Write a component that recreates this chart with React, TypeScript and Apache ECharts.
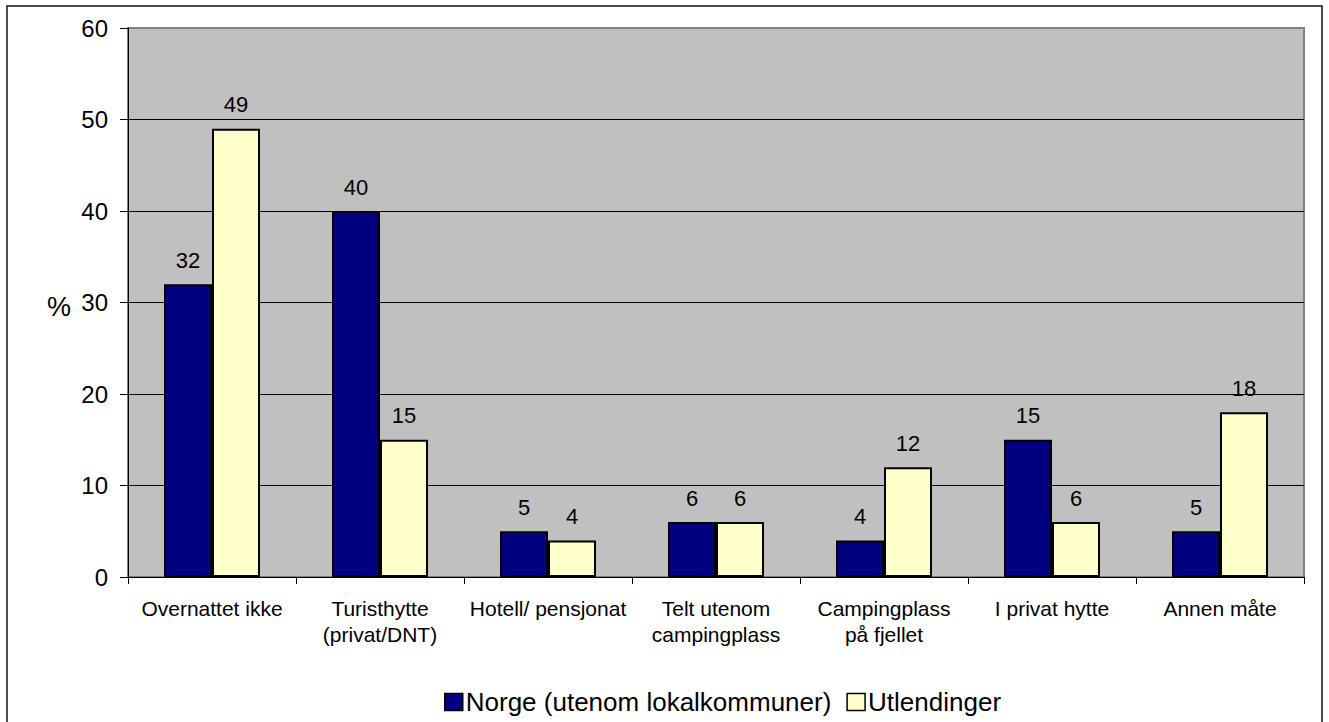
import React, { useEffect, useRef } from "react";
import * as echarts from "echarts";

const categories = [
  "Overnattet ikke",
  "Turisthytte\n(privat/DNT)",
  "Hotell/ pensjonat",
  "Telt utenom\ncampingplass",
  "Campingplass\npå fjellet",
  "I privat hytte",
  "Annen måte",
];
const norge = [32, 40, 5, 6, 4, 15, 5];
const utlendinger = [49, 15, 4, 6, 12, 6, 18];
const seriesNames = ["Norge (utenom lokalkommuner)", "Utlendinger"];

const FONT = "'Liberation Sans', Arial, sans-serif";

export default function App() {
  const ref = useRef<HTMLDivElement>(null);
  useEffect(() => {
    if (!ref.current) return;
    const chart = echarts.init(ref.current, null, { renderer: "svg" });
    const label = {
      show: true,
      position: "top",
      distance: 13,
      color: "#000",
      fontFamily: FONT,
      fontSize: 22,
    };
    chart.setOption({
      animation: false,
      backgroundColor: "#fff",
      textStyle: { fontFamily: FONT },
      grid: {
        left: 128,
        top: 28,
        right: 25,
        bottom: 145,
        show: true,
        backgroundColor: "#C0C0C0",
        borderColor: "#808080",
        borderWidth: 2,
      },
      graphic: [
        {
          type: "rect",
          shape: { x: 7, y: 6, width: 1315, height: 740 },
          style: { fill: "none", stroke: "#111", lineWidth: 1.5 },
          z: 100,
        },
        {
          type: "text",
          x: 47,
          y: 293,
          style: {
            text: "%",
            fontFamily: FONT,
            fontSize: 27,
            fill: "#000",
          },
        },
      ],
      legend: {
        left: 439,
        top: 684,
        itemWidth: 18,
        itemHeight: 17,
        itemGap: 15,
        icon: "rect",
        textStyle: { fontFamily: FONT, fontSize: 26, color: "#000", padding: [0, 0, 0, -2] },
        itemStyle: { borderColor: "#000", borderWidth: 1.5 },
        data: seriesNames,
      },
      xAxis: {
        type: "category",
        data: categories,
        axisLine: { show: true, lineStyle: { color: "#000", width: 1 } },
        axisTick: { show: true, length: 7, lineStyle: { color: "#000" } },
        axisLabel: {
          color: "#000",
          fontFamily: FONT,
          fontSize: 21,
          lineHeight: 26,
          margin: 18,
          interval: 0,
        },
      },
      yAxis: {
        type: "value",
        min: 0,
        max: 60,
        interval: 10,
        axisLine: { show: true, lineStyle: { color: "#000", width: 1 } },
        axisTick: { show: true, length: 8, lineStyle: { color: "#000" } },
        axisLabel: {
          color: "#000",
          fontFamily: FONT,
          fontSize: 24,
          margin: 20,
        },
        splitLine: {
          show: true,
          showMaxLine: false,
          lineStyle: { color: "#000", width: 1 },
        },
      },
      series: [
        {
          name: seriesNames[0],
          type: "bar",
          data: norge,
          barWidth: 48,
          barGap: "0%",
          itemStyle: { color: "#000080", borderColor: "#000", borderWidth: 2 },
          label,
        },
        {
          name: seriesNames[1],
          type: "bar",
          data: utlendinger,
          barWidth: 48,
          barGap: "0%",
          itemStyle: { color: "#FFFFCC", borderColor: "#000", borderWidth: 2 },
          label,
        },
      ],
    });
    return () => chart.dispose();
  }, []);
  return (
    <div
      ref={ref}
      style={{ position: "absolute", left: 0, top: 0, width: 1329, height: 722 }}
    />
  );
}
